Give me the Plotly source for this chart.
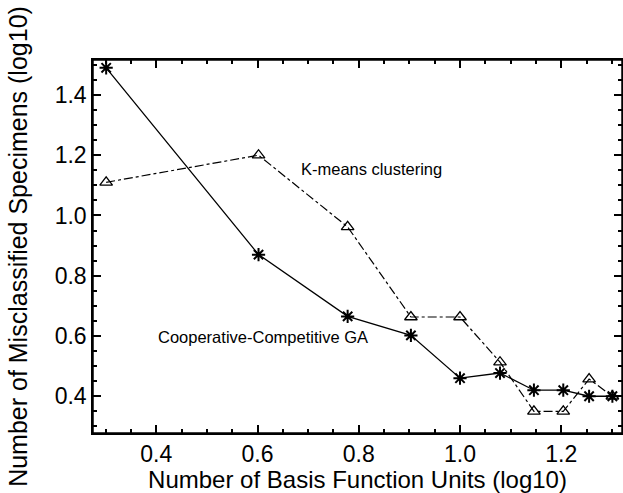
import plotly.graph_objects as go

basis_units_log = [0.301, 0.602, 0.778, 0.903, 1.0, 1.079, 1.146, 1.204, 1.255, 1.301]
ga_misclassified = [1.49, 0.87, 0.665, 0.602, 0.46, 0.477, 0.42, 0.42, 0.40, 0.40]
kmeans_misclassified = [1.11, 1.20, 0.962, 0.663, 0.663, 0.513, 0.35, 0.35, 0.457, 0.40]

x_range = [0.275, 1.32]
y_range = [0.278, 1.516]
x_tick_step = 0.2
y_tick_step = 0.2
minor_step = 0.05

FONT = "Liberation Sans, Arial, Helvetica, sans-serif"

fig = go.Figure()
fig.add_trace(go.Scatter(
    x=basis_units_log, y=kmeans_misclassified, mode="lines+markers",
    name="K-means clustering",
    line=dict(color="black", width=1.2, dash="dashdot"),
    marker=dict(symbol="triangle-up-open", size=11, color="black", line=dict(width=1.3, color="black")),
))
fig.add_trace(go.Scatter(
    x=basis_units_log, y=ga_misclassified, mode="lines+markers",
    name="Cooperative-Competitive GA",
    line=dict(color="black", width=1.3),
    marker=dict(symbol="asterisk-open", size=11, color="black", line=dict(width=2, color="black")),
))
# empty trace that only carries the minor-tick axes
fig.add_trace(go.Scatter(x=[], y=[], xaxis="x2", yaxis="y2", showlegend=False, hoverinfo="skip"))

major_axis = dict(
    showline=True, linecolor="black", linewidth=1.5, mirror="ticks",
    ticks="inside", ticklen=8, tickwidth=1.5, tickcolor="black",
    showgrid=False, zeroline=False, automargin=False, layer="above traces",
    tickmode="linear", tick0=0, tickformat=".1f",
    tickfont=dict(family=FONT, size=23, color="black"),
)
minor_axis = dict(
    showline=False, mirror="ticks",
    ticks="inside", ticklen=4, tickwidth=1.5, tickcolor="black",
    showgrid=False, zeroline=False, automargin=False, layer="above traces",
    tickmode="linear", tick0=0, dtick=minor_step, showticklabels=False,
)

fig.update_layout(
    width=623, height=493,
    margin=dict(l=93, r=1, t=60, b=60),
    paper_bgcolor="white", plot_bgcolor="white",
    showlegend=False,
    font=dict(family=FONT, color="black"),
    xaxis=dict(range=x_range, dtick=x_tick_step,
               title=dict(text="Number of Basis Function Units (log10)", font=dict(family=FONT, size=24), standoff=2),
               **major_axis),
    yaxis=dict(range=y_range, dtick=y_tick_step,
               title=dict(text="Number of Misclassified Specimens (log10)", font=dict(family=FONT, size=25), standoff=20),
               **major_axis),
    xaxis2=dict(range=x_range, overlaying="x", anchor="y2", side="bottom", **minor_axis),
    yaxis2=dict(range=y_range, overlaying="y", anchor="x2", side="left", **minor_axis),
    shapes=[dict(type="rect", xref="paper", yref="paper", x0=0, x1=1, y0=0, y1=1,
                 line=dict(color="black", width=1.5), fillcolor="rgba(0,0,0,0)", layer="above")],
    annotations=[
        dict(x=0.681, y=1.153, xref="x", yref="y", text="K-means clustering", showarrow=False,
             xanchor="left", yanchor="middle", font=dict(family=FONT, size=16.5, color="black")),
        dict(x=0.4, y=0.596, xref="x", yref="y", text="Cooperative-Competitive GA", showarrow=False,
             xanchor="left", yanchor="middle", font=dict(family=FONT, size=16.5, color="black")),
    ],
)

fig.write_html("out.html", config={"displayModeBar": False},
               post_script="document.body.style.margin='0';document.body.style.overflow='hidden';")
